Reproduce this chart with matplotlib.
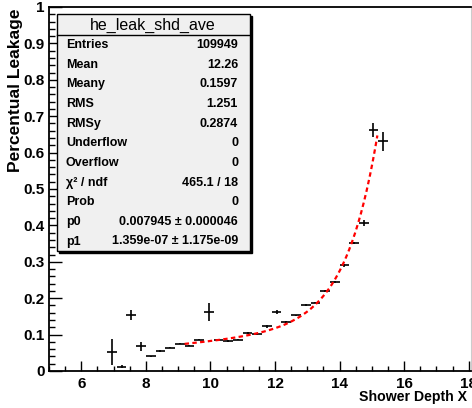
import numpy as np
import matplotlib
matplotlib.use('Agg')
import matplotlib.pyplot as plt
from matplotlib.patches import Rectangle
from matplotlib.lines import Line2D
from matplotlib.ticker import MultipleLocator, FormatStrFormatter

# mean leakage per shower-depth bin (bin width 0.3)
depth = [6.95, 7.25, 7.55, 7.85, 8.15, 8.45, 8.75, 9.05, 9.35, 9.65,
         9.95, 10.25, 10.55, 10.85, 11.15, 11.45, 11.75, 12.05, 12.35, 12.65,
         12.95, 13.25, 13.55, 13.85, 14.15, 14.45, 14.75, 15.05, 15.35]
leak = [0.053, 0.012, 0.154, 0.068, 0.040, 0.056, 0.064, 0.075, 0.070, 0.086,
        0.161, 0.085, 0.083, 0.086, 0.104, 0.101, 0.123, 0.162, 0.135, 0.153,
        0.181, 0.188, 0.220, 0.244, 0.290, 0.351, 0.406, 0.662, 0.631]
leak_err = [0.036, 0.005, 0.014, 0.012, 0.002, 0.003, 0.002, 0.002, 0.002, 0.002,
            0.025, 0.002, 0.002, 0.002, 0.002, 0.002, 0.004, 0.006, 0.002, 0.002,
            0.002, 0.002, 0.002, 0.002, 0.003, 0.003, 0.008, 0.018, 0.026]
half_bin = 0.15

# fit: p0*x + p1*exp(x)
p0 = 0.007945
p1 = 1.359e-07
fit_lo, fit_hi = 9.2, 15.17

stat_names = ['Entries', 'Mean', 'Meany', 'RMS', 'RMSy', 'Underflow', 'Overflow',
              'χ² / ndf', 'Prob', 'p0', 'p1']
stat_values = ['109949', '12.26', '0.1597', '1.251', '0.2874', '0', '0',
               '465.1 / 18', '0', '0.007945 ± 0.000046', '1.359e-07 ± 1.175e-09']
hist_name = 'he_leak_shd_ave'

plt.rcParams['font.family'] = ['Liberation Sans', 'DejaVu Sans']

W, H = 472, 408
def fx(p):
    return p / W
def fy(p):
    return 1 - p / H

fig = plt.figure(figsize=(W / 100, H / 100), dpi=100)
ax = fig.add_axes([fx(49), fy(371), (471 - 49) / W, (371 - 7) / H])

ax.errorbar(depth, leak, xerr=half_bin, yerr=leak_err, fmt='none',
            ecolor='black', elinewidth=1.2, capsize=0, zorder=3)

xs = np.linspace(fit_lo, fit_hi, 200)
ax.plot(xs, p0 * xs + p1 * np.exp(xs), color='red', lw=1.6,
        linestyle=(0, (2, 1.5)), zorder=4)

ax.set_xlim(5, 18.07)
ax.set_ylim(0, 1.0)
ax.xaxis.set_major_locator(MultipleLocator(2))
ax.xaxis.set_minor_locator(MultipleLocator(0.5))
ax.yaxis.set_major_locator(MultipleLocator(0.1))
ax.yaxis.set_minor_locator(MultipleLocator(0.02))
ax.yaxis.set_major_formatter(FormatStrFormatter('%g'))
ax.tick_params(axis='x', which='major', direction='in', length=7.2, width=1, pad=4)
ax.tick_params(axis='x', which='minor', direction='in', length=3.6, width=1)
ax.tick_params(axis='y', which='major', direction='in', length=9, width=1, pad=3)
ax.tick_params(axis='y', which='minor', direction='in', length=4.5, width=1)
for lab in ax.get_xticklabels() + ax.get_yticklabels():
    lab.set_fontsize(11)
    lab.set_fontweight('bold')
for s in ['left', 'bottom', 'top']:
    ax.spines[s].set_linewidth(1.3)
ax.spines['right'].set_color('#cccccc')
ax.spines['right'].set_linewidth(0.8)

fig.text(fx(16), fy(8), 'Percentual Leakage', rotation=90, ha='center', va='top',
         fontsize=12.5, fontweight='bold')
fig.text(fx(467), fy(401), 'Shower Depth X', ha='right', va='baseline',
         fontsize=10.2, fontweight='bold')

# statistics box
bx0, bx1, by0, by1 = 57, 250, 14, 251
fig.add_artist(Rectangle((fx(bx0 + 2), fy(by1 + 2)), (bx1 - bx0) / W, (by1 - by0) / H,
                         transform=fig.transFigure, fc='black', ec='black', zorder=5))
fig.add_artist(Rectangle((fx(bx0), fy(by1)), (bx1 - bx0) / W, (by1 - by0) / H,
                         transform=fig.transFigure, fc='#f0f0f0', ec='black', lw=1, zorder=6))
fig.add_artist(Line2D([fx(bx0), fx(bx1)], [fy(35), fy(35)], transform=fig.transFigure,
                      color='black', lw=1, zorder=7))
fig.text(fx(153), fy(25), hist_name, ha='center', va='center', fontsize=11.5, zorder=8)
for i, (name, val) in enumerate(zip(stat_names, stat_values)):
    yy = 45 + 19.65 * i
    fig.text(fx(66), fy(yy), name, ha='left', va='center', fontsize=9,
             fontweight='bold', zorder=8)
    fig.text(fx(238), fy(yy), val, ha='right', va='center', fontsize=9,
             fontweight='bold', zorder=8)

fig.savefig('out.png', dpi=100)
